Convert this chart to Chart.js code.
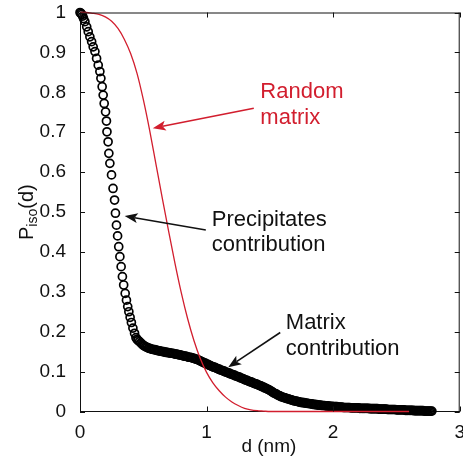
<!DOCTYPE html>
<html>
<head>
<meta charset="utf-8">
<script src="https://cdn.jsdelivr.net/npm/chart.js@4.4.1/dist/chart.umd.min.js"></script>
<style>
  html, body { margin: 0; padding: 0; background: #fff; overflow: hidden; }
  canvas { display: block; }
</style>
</head>
<body>
<!-- a bit wider than the window so the "3" tick label is cut at the edge, as in the original -->
<canvas id="piso" width="467" height="469"></canvas>
<script>
// Tick labels
const xTicks = [0, 1, 2, 3];
const yTicks = [0, 0.1, 0.2, 0.3, 0.4, 0.5, 0.6, 0.7, 0.8, 0.9, 1];

// Random matrix (red line)
const randD = [0, 0.05, 0.1, 0.15, 0.2, 0.25, 0.3, 0.35, 0.4, 0.45, 0.5, 0.55, 0.6, 0.65, 0.7, 0.75,
  0.8, 0.85, 0.9, 0.95, 1.0, 1.05, 1.1, 1.15, 1.2, 1.25, 1.3, 1.35, 1.4, 1.45, 1.5, 2.0, 2.6];
const randP = [1, 1, 0.998, 0.995, 0.989, 0.978, 0.96, 0.933, 0.897, 0.848, 0.782, 0.705, 0.62, 0.535, 0.452, 0.372,
  0.298, 0.233, 0.178, 0.133, 0.098, 0.072, 0.052, 0.036, 0.024, 0.015, 0.008, 0.004, 0.002, 0.001, 0, 0, 0];

// Measured P_iso(d), steep part (precipitates contribution)
const precD = [0, 0.007, 0.014, 0.021, 0.028, 0.039, 0.053, 0.065, 0.078, 0.092,
  0.104, 0.118, 0.131, 0.144, 0.157, 0.165, 0.175, 0.183, 0.191, 0.202,
  0.209, 0.213, 0.222, 0.228, 0.236, 0.249, 0.261, 0.273, 0.280, 0.288,
  0.297, 0.306, 0.315, 0.325, 0.335, 0.345, 0.357, 0.367, 0.377, 0.386,
  0.396, 0.406, 0.418, 0.431, 0.442];
const precP = [1, 0.998, 0.995, 0.991, 0.985, 0.977, 0.964, 0.952, 0.939, 0.927,
  0.914, 0.902, 0.885, 0.868, 0.852, 0.835, 0.814, 0.793, 0.772, 0.751,
  0.728, 0.701, 0.676, 0.647, 0.622, 0.593, 0.559, 0.530, 0.497, 0.467,
  0.440, 0.413, 0.388, 0.363, 0.338, 0.317, 0.296, 0.279, 0.263, 0.250,
  0.236, 0.223, 0.209, 0.196, 0.185];

// Measured P_iso(d), tail (matrix contribution)
const matD = [0.45, 0.46, 0.47, 0.48, 0.49,
  0.50, 0.51, 0.52, 0.53, 0.54, 0.55, 0.56, 0.57, 0.58, 0.59,
  0.60, 0.61, 0.62, 0.63, 0.64, 0.65, 0.66, 0.67, 0.68, 0.69,
  0.70, 0.71, 0.72, 0.73, 0.74, 0.75, 0.76, 0.77, 0.78, 0.79,
  0.80, 0.81, 0.82, 0.83, 0.84, 0.85, 0.86, 0.87, 0.88, 0.89,
  0.90, 0.91, 0.92, 0.93, 0.94, 0.95, 0.96, 0.97, 0.98, 0.99,
  1.00, 1.01, 1.02, 1.03, 1.04, 1.05, 1.06, 1.07, 1.08, 1.09,
  1.10, 1.11, 1.12, 1.13, 1.14, 1.15, 1.16, 1.17, 1.18, 1.19,
  1.20, 1.21, 1.22, 1.23, 1.24, 1.25, 1.26, 1.27, 1.28, 1.29,
  1.30, 1.31, 1.32, 1.33, 1.34, 1.35, 1.36, 1.37, 1.38, 1.39,
  1.40, 1.41, 1.42, 1.43, 1.44, 1.45, 1.46, 1.47, 1.48, 1.49,
  1.50, 1.51, 1.52, 1.53, 1.54, 1.55, 1.56, 1.57, 1.58, 1.59,
  1.60, 1.61, 1.62, 1.63, 1.64, 1.65, 1.66, 1.67, 1.68, 1.69,
  1.70, 1.71, 1.72, 1.73, 1.74, 1.75, 1.76, 1.77, 1.78, 1.79,
  1.80, 1.81, 1.82, 1.83, 1.84, 1.85, 1.86, 1.87, 1.88, 1.89,
  1.90, 1.91, 1.92, 1.93, 1.94, 1.95, 1.96, 1.97, 1.98, 1.99,
  2.00, 2.01, 2.02, 2.03, 2.04, 2.05, 2.06, 2.07, 2.08, 2.09,
  2.10, 2.11, 2.12, 2.13, 2.14, 2.15, 2.16, 2.17, 2.18, 2.19,
  2.20, 2.21, 2.22, 2.23, 2.24, 2.25, 2.26, 2.27, 2.28, 2.29,
  2.30, 2.31, 2.32, 2.33, 2.34, 2.35, 2.36, 2.37, 2.38, 2.39,
  2.40, 2.41, 2.42, 2.43, 2.44, 2.45, 2.46, 2.47, 2.48, 2.49,
  2.50, 2.51, 2.52, 2.53, 2.54, 2.55, 2.56, 2.57, 2.58, 2.59,
  2.60, 2.61, 2.62, 2.63, 2.64, 2.65, 2.66, 2.67, 2.68, 2.69,
  2.70, 2.71, 2.72, 2.73, 2.74, 2.75, 2.76, 2.77, 2.78];
const matP = [0.181, 0.178, 0.175, 0.172, 0.169,
  0.166, 0.164, 0.162, 0.161, 0.159, 0.158, 0.157, 0.156, 0.155, 0.155,
  0.154, 0.153, 0.152, 0.152, 0.151, 0.150, 0.150, 0.149, 0.148, 0.148,
  0.147, 0.147, 0.146, 0.146, 0.145, 0.144, 0.144, 0.143, 0.142, 0.142,
  0.141, 0.140, 0.139, 0.139, 0.138, 0.137, 0.136, 0.136, 0.135, 0.134,
  0.133, 0.132, 0.131, 0.130, 0.128, 0.127, 0.125, 0.124, 0.122, 0.121,
  0.119, 0.118, 0.116, 0.115, 0.113, 0.112, 0.111, 0.110, 0.108, 0.107,
  0.106, 0.104, 0.103, 0.102, 0.101, 0.099, 0.098, 0.097, 0.096, 0.094,
  0.093, 0.092, 0.091, 0.089, 0.088, 0.087, 0.086, 0.084, 0.083, 0.082,
  0.080, 0.079, 0.078, 0.076, 0.075, 0.074, 0.073, 0.071, 0.070, 0.069,
  0.068, 0.066, 0.065, 0.064, 0.062, 0.061, 0.059, 0.058, 0.056, 0.055,
  0.053, 0.051, 0.049, 0.047, 0.045, 0.044, 0.042, 0.040, 0.039, 0.037,
  0.036, 0.035, 0.034, 0.033, 0.032, 0.031, 0.030, 0.029, 0.028, 0.027,
  0.026, 0.026, 0.025, 0.024, 0.023, 0.023, 0.022, 0.022, 0.021, 0.021,
  0.020, 0.020, 0.019, 0.019, 0.018, 0.018, 0.017, 0.017, 0.016, 0.016,
  0.016, 0.015, 0.015, 0.015, 0.014, 0.014, 0.014, 0.013, 0.013, 0.013,
  0.012, 0.012, 0.012, 0.012, 0.011, 0.011, 0.011, 0.011, 0.010, 0.010,
  0.010, 0.010, 0.010, 0.010, 0.009, 0.009, 0.009, 0.009, 0.009, 0.009,
  0.009, 0.008, 0.008, 0.008, 0.008, 0.008, 0.008, 0.008, 0.008, 0.007,
  0.007, 0.007, 0.007, 0.007, 0.007, 0.007, 0.006, 0.006, 0.006, 0.006,
  0.006, 0.006, 0.006, 0.005, 0.005, 0.005, 0.005, 0.005, 0.005, 0.005,
  0.004, 0.004, 0.004, 0.004, 0.004, 0.004, 0.004, 0.003, 0.003, 0.003,
  0.003, 0.003, 0.003, 0.003, 0.002, 0.002, 0.002, 0.002, 0.002, 0.002,
  0.002, 0.002, 0.001, 0.001, 0.001, 0.001, 0.001, 0.001, 0.001];

const RED = '#d21e2e';
const INK = '#111111';
const FONT = '"Liberation Sans", Arial, Helvetica, sans-serif';

// Text annotations with arrows, in data units (d, P)
const notes = [
  { lines: ['Random', 'matrix'], color: RED, at: [1.425, 0.785], from: [1.373, 0.760], to: [0.575, 0.710] },
  { lines: ['Precipitates', 'contribution'], color: INK, at: [1.041, 0.465], from: [0.994, 0.455], to: [0.353, 0.490] },
  { lines: ['Matrix', 'contribution'], color: INK, at: [1.626, 0.206], from: [1.582, 0.198], to: [1.171, 0.111] }
];

function toPoints(xs, ys) {
  return xs.map((x, i) => ({ x: x, y: ys[i] }));
}

function drawArrow(ctx, x1, y1, x2, y2, color) {
  const ang = Math.atan2(y2 - y1, x2 - x1);
  const c = Math.cos(ang), s = Math.sin(ang);
  const len = 13, half = 5, back = 3;
  ctx.save();
  ctx.strokeStyle = color;
  ctx.fillStyle = color;
  ctx.lineWidth = 1.6;
  ctx.beginPath();
  ctx.moveTo(x1, y1);
  ctx.lineTo(x2 - (len - back) * c, y2 - (len - back) * s);
  ctx.stroke();
  ctx.beginPath();
  ctx.moveTo(x2, y2);
  ctx.lineTo(x2 - len * c - half * s, y2 - len * s + half * c);
  ctx.lineTo(x2 - (len - back) * c, y2 - (len - back) * s);
  ctx.lineTo(x2 - len * c + half * s, y2 - len * s - half * c);
  ctx.closePath();
  ctx.fill();
  ctx.restore();
}

const frame = {
  id: 'frame',
  afterDraw(chart) {
    const { ctx, chartArea: a, scales: { x, y } } = chart;
    ctx.save();
    ctx.strokeStyle = INK;
    ctx.lineWidth = 1;
    // top and right edges of the box
    ctx.beginPath();
    ctx.moveTo(a.left, a.top + 0.5);
    ctx.lineTo(a.right, a.top + 0.5);
    ctx.moveTo(a.right - 0.5, a.top);
    ctx.lineTo(a.right - 0.5, a.bottom);
    ctx.stroke();
    // inward ticks on all four sides
    const tl = 5;
    ctx.beginPath();
    xTicks.forEach(v => {
      const px = Math.round(x.getPixelForValue(v)) + 0.5;
      ctx.moveTo(px, a.bottom); ctx.lineTo(px, a.bottom - tl);
      ctx.moveTo(px, a.top); ctx.lineTo(px, a.top + tl);
    });
    yTicks.forEach(v => {
      const py = Math.round(y.getPixelForValue(v)) + 0.5;
      ctx.moveTo(a.left, py); ctx.lineTo(a.left + tl, py);
      ctx.moveTo(a.right, py); ctx.lineTo(a.right - tl, py);
    });
    ctx.stroke();

    // x axis title
    ctx.fillStyle = INK;
    ctx.font = '19px ' + FONT;
    ctx.textAlign = 'center';
    ctx.textBaseline = 'alphabetic';
    ctx.fillText('d (nm)', (a.left + a.right) / 2 - 1, 452);

    // y axis title with subscript
    ctx.save();
    ctx.translate(33, 240);
    ctx.rotate(-Math.PI / 2);
    ctx.textAlign = 'left';
    ctx.font = '20px ' + FONT;
    ctx.fillText('P', 0, 0);
    let w = ctx.measureText('P').width;
    ctx.font = '14px ' + FONT;
    ctx.fillText('iso', w, 4);
    w += ctx.measureText('iso').width;
    ctx.font = '20px ' + FONT;
    ctx.fillText('(d)', w, 0);
    ctx.restore();

    // annotations
    notes.forEach(n => {
      ctx.fillStyle = n.color;
      ctx.font = '22px ' + FONT;
      ctx.textAlign = 'left';
      const tx = x.getPixelForValue(n.at[0]);
      const ty = y.getPixelForValue(n.at[1]);
      n.lines.forEach((line, i) => ctx.fillText(line, tx, ty + i * 25.5));
      drawArrow(ctx,
        x.getPixelForValue(n.from[0]), y.getPixelForValue(n.from[1]),
        x.getPixelForValue(n.to[0]), y.getPixelForValue(n.to[1]), n.color);
    });
    ctx.restore();
  }
};

new Chart(document.getElementById('piso'), {
  type: 'scatter',
  data: {
    datasets: [
      {
        label: 'Random matrix',
        type: 'line',
        data: toPoints(randD, randP),
        borderColor: RED,
        borderWidth: 1.3,
        pointRadius: 0,
        fill: false,
        cubicInterpolationMode: 'monotone',
        clip: false
      },
      {
        label: 'P_iso(d)',
        data: toPoints(precD, precP).concat(toPoints(matD, matP)),
        showLine: false,
        pointStyle: 'circle',
        pointRadius: 4,
        borderWidth: 1.7,
        borderColor: '#000',
        backgroundColor: 'rgba(0,0,0,0)',
        clip: false
      }
    ]
  },
  options: {
    responsive: false,
    animation: false,
    devicePixelRatio: 1,
    layout: { padding: { left: 0, right: 0, top: 12.5, bottom: 0 } },
    plugins: { legend: { display: false }, tooltip: { enabled: false } },
    scales: {
      x: {
        type: 'linear',
        min: 0,
        max: 3,
        grid: { display: false },
        border: { display: true, color: INK, width: 1 },
        afterBuildTicks: s => { s.ticks = xTicks.map(v => ({ value: v })); },
        afterFit: s => { s.height = 57.5; },
        ticks: {
          color: INK,
          font: { family: FONT, size: 19 },
          padding: 2,
          maxRotation: 0,
          autoSkip: false,
          callback: v => String(v)
        }
      },
      y: {
        type: 'linear',
        min: 0,
        max: 1,
        grid: { display: false },
        border: { display: true, color: INK, width: 1 },
        afterBuildTicks: s => { s.ticks = yTicks.map(v => ({ value: v })); },
        afterFit: s => { s.width = 80; s.paddingTop = 0; s.paddingBottom = 0; },
        ticks: {
          color: INK,
          font: { family: FONT, size: 19 },
          padding: 6,
          autoSkip: false,
          callback: v => String(Math.round(v * 10) / 10)
        }
      }
    }
  },
  plugins: [frame]
});
</script>
</body>
</html>
